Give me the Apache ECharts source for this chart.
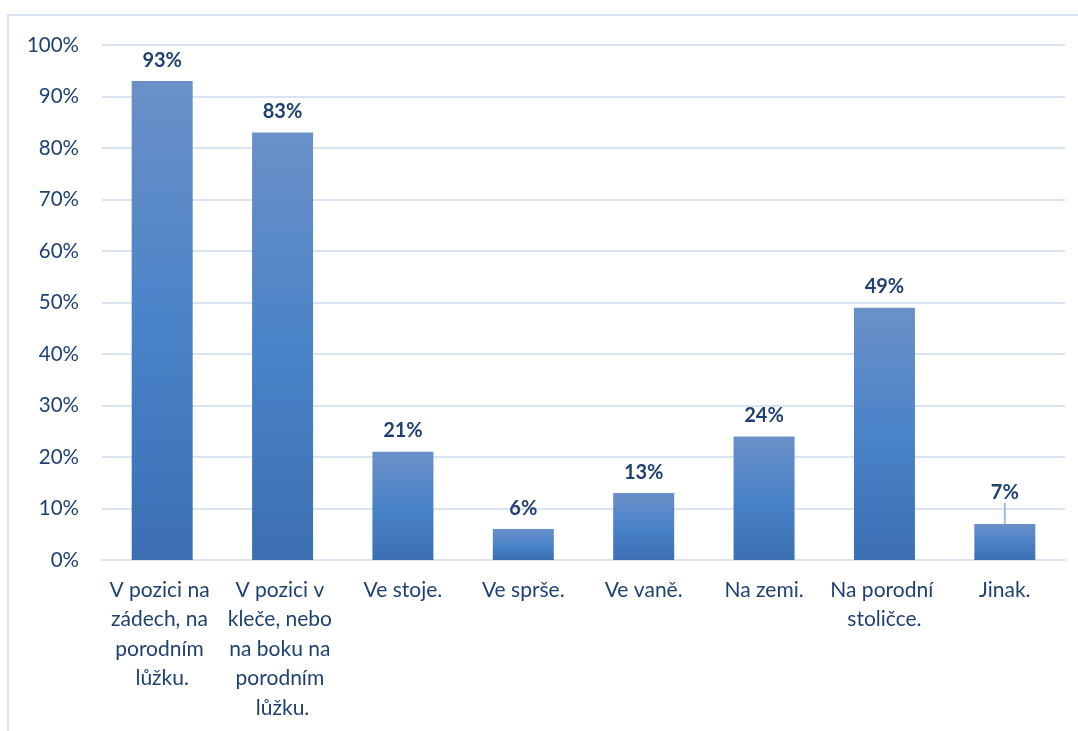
<!DOCTYPE html>
<html>
<head>
<meta charset="utf-8">
<script src="https://cdn.jsdelivr.net/npm/echarts@6/dist/echarts.min.js"></script>
<style>
  html, body { margin: 0; padding: 0; background: #ffffff; }
  #chart { width: 1078px; height: 731px; }
</style>
</head>
<body>
<div id="chart"></div>
<script>
// Birth positions and the share of respondents for each (percent)
const categories = [
  'V pozici na zádech, na porodním lůžku.',
  'V pozici v kleče, nebo na boku na porodním lůžku.',
  'Ve stoje.',
  'Ve sprše.',
  'Ve vaně.',
  'Na zemi.',
  'Na porodní stoličce.',
  'Jinak.'
];
const shares = [93, 83, 21, 6, 13, 24, 49, 7];
const yTicks = [0, 10, 20, 30, 40, 50, 60, 70, 80, 90, 100];

const textColor = '#1f4172';
const gridColor = '#d9e4f2';
const lastIndex = shares.length - 1;

const chart = echarts.init(document.getElementById('chart'), null, { renderer: 'canvas' });

chart.setOption({
  backgroundColor: '#ffffff',
  animation: false,
  graphic: [{
    type: 'rect',
    shape: { x: 8, y: 15, width: 1200, height: 900 },
    style: { fill: 'none', stroke: '#d6e3f3', lineWidth: 2 },
    silent: true
  }],
  grid: { left: 102, right: 13, top: 45, bottom: 171, containLabel: false },
  xAxis: {
    type: 'category',
    data: categories,
    axisLine: { show: true, lineStyle: { color: gridColor, width: 2 } },
    axisTick: { show: false },
    axisLabel: {
      color: textColor,
      fontFamily: 'Lato',
      fontSize: 21,
      lineHeight: 29.5,
      margin: 15,
      interval: 0,
      width: 125,
      overflow: 'break',
      align: 'center'
    }
  },
  yAxis: {
    type: 'value',
    min: yTicks[0],
    max: yTicks[yTicks.length - 1],
    interval: yTicks[1] - yTicks[0],
    axisLine: { show: false },
    axisTick: { show: false },
    splitLine: { lineStyle: { color: gridColor, width: 2 } },
    axisLabel: {
      color: textColor,
      fontFamily: 'Lato',
      fontSize: 20.5,
      margin: 23,
      formatter: v => v + '%'
    }
  },
  series: [{
    type: 'bar',
    // the last label sits a little higher, tied to its bar by a short guide line
    data: shares.map((v, i) => i === lastIndex
      ? { value: v, labelLine: { show: true, lineStyle: { color: '#9dbde3', width: 2 } } }
      : v),
    barWidth: 61,
    itemStyle: {
      color: new echarts.graphic.LinearGradient(0, 0, 0, 1, [
        { offset: 0, color: '#6a90c8' },
        { offset: 0.5, color: '#4a83c8' },
        { offset: 1, color: '#3c6fb2' }
      ])
    },
    label: {
      show: true,
      position: 'top',
      distance: 11,
      color: textColor,
      fontFamily: 'Lato',
      fontWeight: 'bold',
      fontSize: 20,
      formatter: p => p.value + '%'
    },
    labelLine: { show: false },
    labelLayout: p => (p.dataIndex === lastIndex ? { dy: -10 } : {})
  }]
});
</script>
</body>
</html>
